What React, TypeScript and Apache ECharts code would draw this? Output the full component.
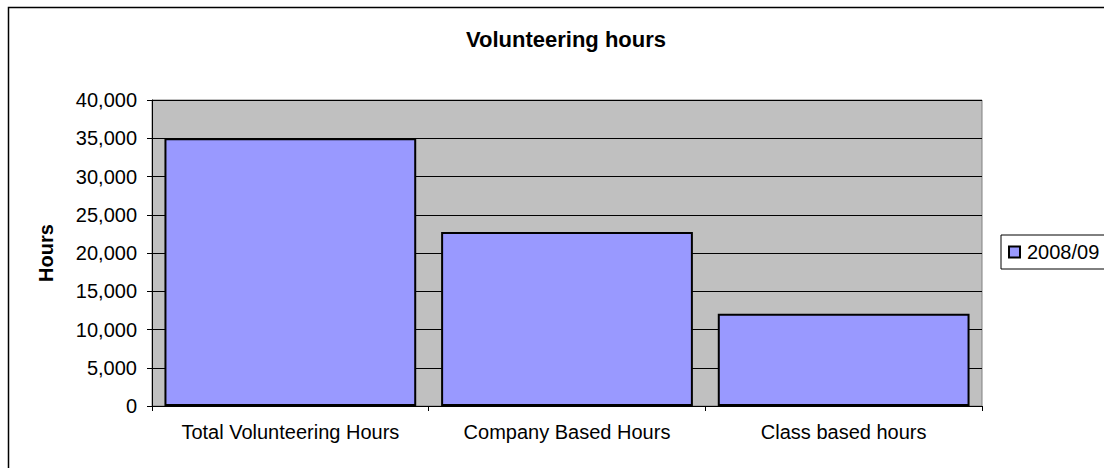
import React, { useEffect, useRef } from "react";
import * as echarts from "echarts";

const categories = ["Total Volunteering Hours", "Company Based Hours", "Class based hours"];
const seriesName = "2008/09";
const hours = [35000, 22750, 12050];
const yTicks = { min: 0, max: 40000, interval: 5000 };
const titleText = "Volunteering hours";
const yAxisTitle = "Hours";

export default function App() {
  const ref = useRef<HTMLDivElement>(null);
  useEffect(() => {
    if (!ref.current) return;
    const chart = echarts.init(ref.current, null, { renderer: "svg" });
    const font = "Liberation Sans, Arial, sans-serif";
    chart.setOption({
      animation: false,
      backgroundColor: "#ffffff",
      textStyle: { fontFamily: font },
      title: {
        text: titleText,
        left: 561,
        top: 23,
        textAlign: "center",
        textStyle: { fontFamily: font, fontSize: 22, fontWeight: "bold", color: "#000" },
      },
      legend: {
        data: [seriesName],
        orient: "vertical",
        left: 1001,
        top: 235,
        itemWidth: 11,
        itemHeight: 11,
        itemGap: 0,
        padding: [7, 8, 7, 7],
        borderColor: "#000",
        borderWidth: 1,
        textStyle: { fontFamily: font, fontSize: 20, color: "#000", padding: [0, 0, 0, 2] },
        icon: "rect",
      },
      grid: {
        left: 152,
        top: 100,
        width: 830,
        height: 306,
        show: true,
        backgroundColor: "#c0c0c0",
        borderColor: "#808080",
        borderWidth: 1,
      },
      xAxis: {
        type: "category",
        data: categories,
        axisLine: { lineStyle: { color: "#000", width: 1 } },
        axisTick: { show: true, length: 5, inside: false, lineStyle: { color: "#000" } },
        axisLabel: {
          fontFamily: font,
          fontSize: 20,
          color: "#000",
          margin: 16,
          interval: 0,
          hideOverlap: false,
        },
        splitLine: { show: false },
      },
      yAxis: {
        type: "value",
        min: yTicks.min,
        max: yTicks.max,
        interval: yTicks.interval,
        name: yAxisTitle,
        nameLocation: "middle",
        nameRotate: 90,
        nameGap: 96,
        nameTextStyle: { fontFamily: font, fontSize: 20, fontWeight: "bold", color: "#000" },
        axisLine: { show: true, lineStyle: { color: "#000", width: 1 } },
        axisTick: { show: true, length: 5, lineStyle: { color: "#000" } },
        axisLabel: {
          fontFamily: font,
          fontSize: 20,
          color: "#000",
          margin: 15,
          formatter: (v: number) => v.toLocaleString("en-US"),
        },
        splitLine: { show: true, lineStyle: { color: "#000", width: 1 } },
      },
      series: [
        {
          name: seriesName,
          type: "bar",
          data: hours,
          barCategoryGap: "9%",
          itemStyle: { color: "#9999ff", borderColor: "#000", borderWidth: 2 },
        },
      ],
      graphic: [
        {
          type: "rect",
          shape: { x: 8.5, y: 7.5, width: 1200, height: 600 },
          style: { fill: "none", stroke: "#000", lineWidth: 1.5 },
          silent: true,
        },
      ],
    });
    return () => chart.dispose();
  }, []);
  return (
    <div
      ref={ref}
      style={{ position: "absolute", left: 0, top: 0, width: 1104, height: 468 }}
    />
  );
}
